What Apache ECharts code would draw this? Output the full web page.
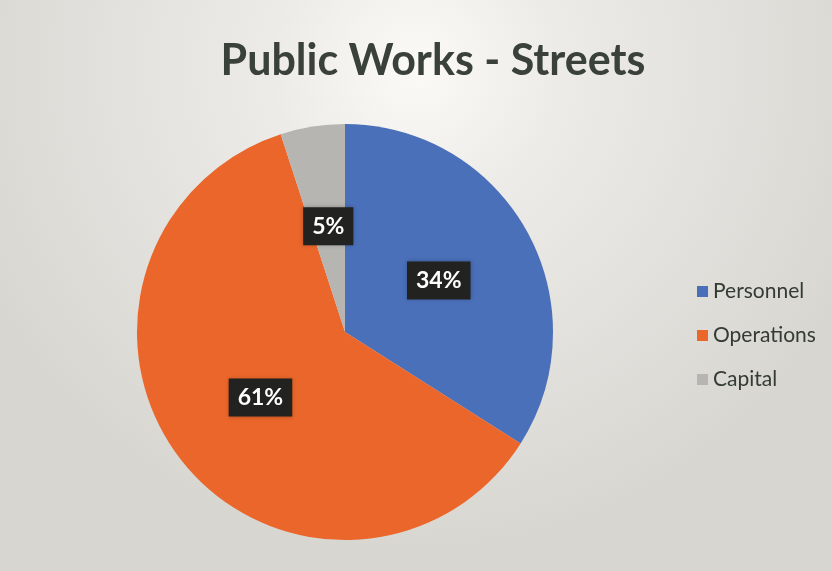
<!DOCTYPE html>
<html>
<head>
<meta charset="utf-8">
<script src="https://cdn.jsdelivr.net/npm/echarts@6/dist/echarts.min.js"></script>
<style>
  html, body { margin: 0; padding: 0; }
  #chart { width: 832px; height: 571px; }
</style>
</head>
<body>
<div id="chart"></div>
<script>
// Street budget split by category
const categories = ['Personnel', 'Operations', 'Capital'];
const shares = [34, 61, 5];
const colors = ['#4a70ba', '#ea662b', '#b6b5b1'];

const chart = echarts.init(document.getElementById('chart'));
chart.setOption({
  backgroundColor: {
    type: 'radial', x: 0.5, y: 0.12, r: 0.85,
    colorStops: [
      { offset: 0, color: '#fbfaf7' },
      { offset: 0.3, color: '#ecebe7' },
      { offset: 1, color: '#d7d6d1' }
    ]
  },
  title: {
    text: 'Public Works - Streets',
    left: 428, top: 35, textAlign: 'center',
    textStyle: { fontFamily: 'Lato', fontWeight: 'bold', fontSize: 43, color: '#3a403a' }
  },
  legend: {
    orient: 'vertical',
    left: 692, top: 276,
    itemWidth: 11, itemHeight: 11, itemGap: 23,
    icon: 'rect',
    data: categories,
    textStyle: { fontFamily: 'Lato', fontSize: 21, color: '#343a34', padding: [0, 0, 0, 0] }
  },
  series: [{
    type: 'pie',
    center: [345, 332],
    radius: [0, 208],
    startAngle: 90,
    clockwise: true,
    silent: true,
    label: {
      show: true,
      position: 'inside',
      formatter: '{c}%',
      fontFamily: 'Lato',
      fontWeight: 'bold',
      fontSize: 23,
      color: '#ffffff',
      backgroundColor: '#222220',
      padding: [8, 9, 7, 9],
      shadowColor: 'rgba(0,0,0,0.25)',
      shadowBlur: 4
    },
    labelLine: { show: false },
    itemStyle: { borderWidth: 0 },
    data: categories.map((name, i) => ({ name, value: shares[i], itemStyle: { color: colors[i] } }))
  }]
});
</script>
</body>
</html>
